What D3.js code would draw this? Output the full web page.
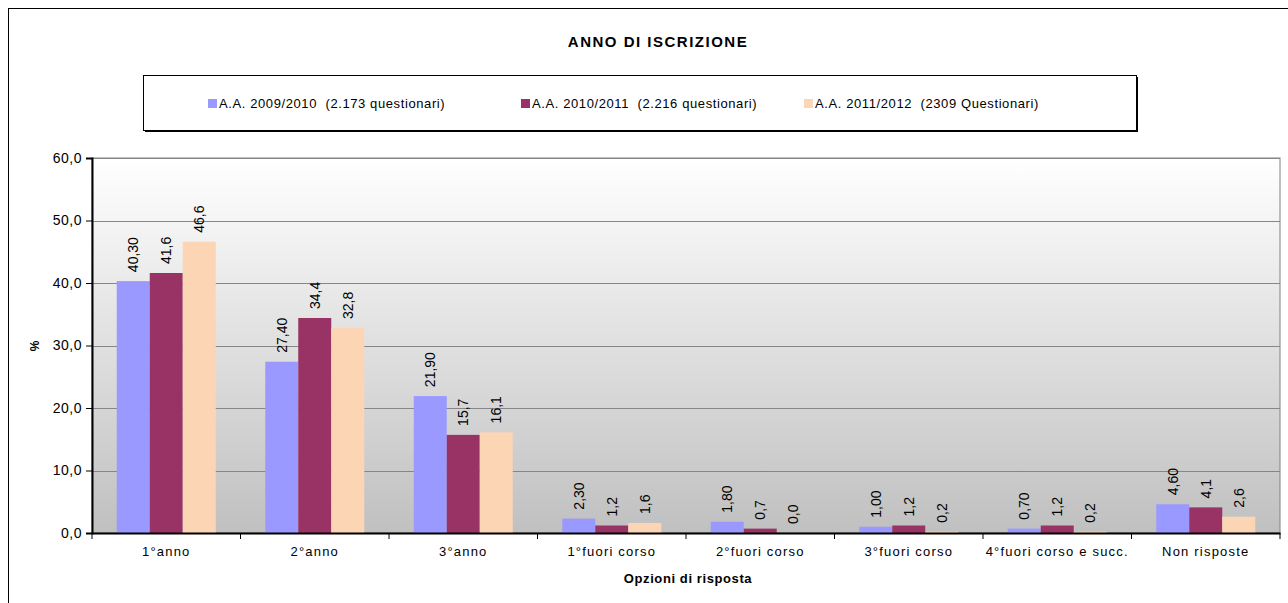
<!DOCTYPE html>
<html>
<head>
<meta charset="utf-8">
<script src="https://cdn.jsdelivr.net/npm/d3@7"></script>
<style>
body { margin: 0; background: #fff; }
text { font-family: "Liberation Sans", Arial, sans-serif; }
</style>
</head>
<body>
<div id="chart"></div>
<script>
// dati
var categories = ["1°anno", "2°anno", "3°anno", "1°fuori corso", "2°fuori corso", "3°fuori corso", "4°fuori corso e succ.", "Non risposte"];
var series_names = ["A.A. 2009/2010  (2.173 questionari)", "A.A. 2010/2011  (2.216 questionari)", "A.A. 2011/2012  (2309 Questionari)"];
var values_0910 = [40.30, 27.40, 21.90, 2.30, 1.80, 1.00, 0.70, 4.60];
var values_1011 = [41.6, 34.4, 15.7, 1.2, 0.7, 1.2, 1.2, 4.1];
var values_1112 = [46.6, 32.8, 16.1, 1.6, 0.0, 0.2, 0.2, 2.6];
var decimals = [2, 1, 1];
var y_ticks = [0, 10, 20, 30, 40, 50, 60];
var colors = ["#9999ff", "#993366", "#fcd5b5"];

var all_series = [values_0910, values_1011, values_1112];

var width = 1288, height = 603;
// "top" e' riservato in window, quindi nomi diversi
var p_left = 92, p_right = 1280, p_top = 158, p_bottom = 533;

var svg = d3.select("#chart").append("svg")
	.attr("width", width)
	.attr("height", height);

// cornice esterna
svg.append("rect")
	.attr("x", 8.5).attr("y", 8.5)
	.attr("width", 1290).attr("height", 610)
	.style("fill", "none").style("stroke", "#000").style("stroke-width", 1);

// titolo
svg.append("text")
	.attr("x", 658).attr("y", 47)
	.attr("text-anchor", "middle")
	.attr("font-size", "15px").attr("font-weight", "bold")
	.attr("letter-spacing", "1.5px")
	.text("ANNO DI ISCRIZIONE");

// legenda (con ombra)
svg.append("rect")
	.attr("x", 145).attr("y", 77)
	.attr("width", 993).attr("height", 55)
	.style("fill", "#000");
svg.append("rect")
	.attr("x", 143.5).attr("y", 75.5)
	.attr("width", 993).attr("height", 55)
	.style("fill", "#fff").style("stroke", "#000");
var legend_x = [208, 521, 804];
series_names.forEach(function(name, i) {
	svg.append("rect")
		.attr("x", legend_x[i]).attr("y", 99)
		.attr("width", 9).attr("height", 9)
		.style("fill", colors[i]);
	svg.append("text")
		.attr("x", legend_x[i] + 11).attr("y", 108)
		.attr("font-size", "13px")
		.attr("letter-spacing", "0.6px")
		.style("white-space", "pre")
		.text(name);
});

// sfondo sfumato
var defs = svg.append("defs");
var grad = defs.append("linearGradient")
	.attr("id", "bg").attr("x1", 0).attr("y1", 0).attr("x2", 0).attr("y2", 1);
grad.append("stop").attr("offset", "0%").attr("stop-color", "#ffffff");
grad.append("stop").attr("offset", "100%").attr("stop-color", "#c0c0c0");

svg.append("rect")
	.attr("x", p_left).attr("y", p_top)
	.attr("width", p_right - p_left).attr("height", p_bottom - p_top)
	.style("fill", "url(#bg)")
	.style("stroke", "#808080").style("stroke-width", 1);

var y = d3.scaleLinear().domain([0, 60]).range([p_bottom, p_top]);
var x0 = d3.scaleBand().domain(categories).range([p_left, p_right]).paddingInner(0).paddingOuter(0);
var bar_w = x0.bandwidth() / 4.5;

// griglia
svg.selectAll(".grid")
	.data(y_ticks.filter(d => d > 0))
	.enter().append("line")
	.attr("x1", p_left).attr("x2", p_right)
	.attr("y1", d => Math.round(y(d)) + 0.5).attr("y2", d => Math.round(y(d)) + 0.5)
	.style("stroke", "#868686").style("stroke-width", 1.2);

// barre
all_series.forEach(function(vals, s) {
	var g = svg.append("g");
	g.selectAll("rect")
		.data(vals)
		.enter().append("rect")
		.attr("x", (d, i) => x0(categories[i]) + bar_w * 0.75 + s * bar_w)
		.attr("y", d => y(d))
		.attr("width", bar_w)
		.attr("height", d => p_bottom - y(d))
		.style("fill", colors[s]);
	g.selectAll("text")
		.data(vals)
		.enter().append("text")
		.attr("transform", function(d, i) {
			var cx = x0(categories[i]) + bar_w * 0.75 + s * bar_w + bar_w / 2 + 5;
			return "translate(" + cx + "," + (y(d) - 9) + ") rotate(-90)";
		})
		.attr("font-size", "14px")
		.text(d => d.toFixed(decimals[s]).replace(".", ","));
});

// asse y
var yAxis = d3.axisLeft(y)
	.tickValues(y_ticks)
	.tickSize(6)
	.tickPadding(4)
	.tickFormat(d => d.toFixed(1).replace(".", ","));
var gy = svg.append("g")
	.attr("transform", "translate(" + p_left + ",0)")
	.call(yAxis);
gy.select(".domain").style("stroke-width", 2);
gy.selectAll("text").attr("font-size", "14px").attr("letter-spacing", "0.5px")
	.style("font-family", "Liberation Sans, Arial, sans-serif");

// asse x
var xAxis = d3.axisBottom(x0).tickSize(0).tickPadding(14);
var gx = svg.append("g")
	.attr("transform", "translate(0," + p_bottom + ")")
	.call(xAxis);
gx.select(".domain").style("stroke-width", 2);
gx.selectAll("text").attr("font-size", "13px").attr("letter-spacing", "1.2px")
	.style("font-family", "Liberation Sans, Arial, sans-serif");
gx.selectAll(".bnd")
	.data(categories.concat(["_end"]))
	.enter().append("line")
	.attr("x1", (d, i) => p_left + i * x0.step()).attr("x2", (d, i) => p_left + i * x0.step())
	.attr("y1", 0).attr("y2", 6)
	.style("stroke", "#000");

// titoli degli assi
svg.append("text")
	.attr("transform", "translate(39,346) rotate(-90)")
	.attr("text-anchor", "middle")
	.attr("font-size", "12px").attr("font-weight", "bold")
	.text("%");
svg.append("text")
	.attr("x", 688).attr("y", 583)
	.attr("text-anchor", "middle")
	.attr("font-size", "13px").attr("font-weight", "bold")
	.attr("letter-spacing", "0.6px")
	.text("Opzioni di risposta");
</script>
</body>
</html>
